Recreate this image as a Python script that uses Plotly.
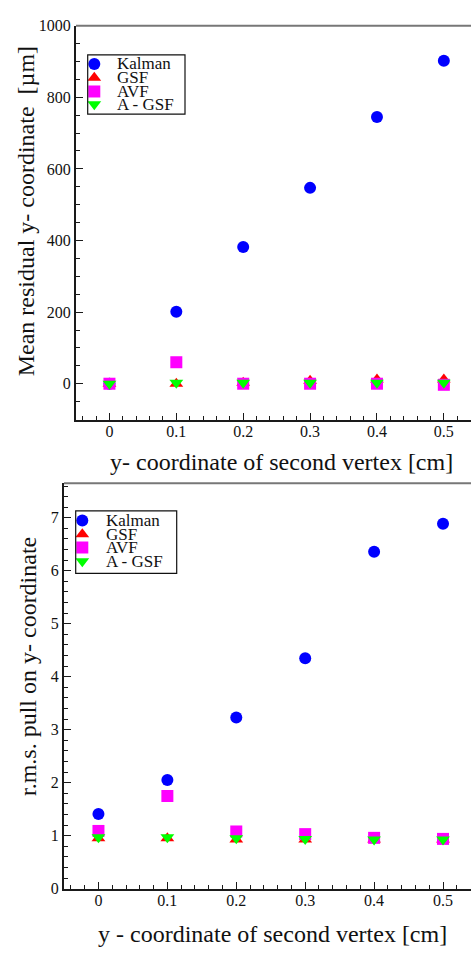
import plotly.graph_objects as go

# Vertex y-coordinate scan points [cm]
vertex_y = [0.0, 0.1, 0.2, 0.3, 0.4, 0.5]

# Mean residual of the fitted y-coordinate [um]
resid_kalman = [0, 201, 382, 547, 745, 902]
resid_gsf = [0, 0, 3, 8, 12, 12]
resid_avf = [0, 60, 0, 0, 0, -3]
resid_agsf = [0, 3, 3, 3, 3, 3]

# r.m.s. of the pull on the y-coordinate
pull_kalman = [1.41, 2.05, 3.23, 4.35, 6.36, 6.89]
pull_gsf = [0.95, 0.95, 0.93, 0.93, 0.93, 0.93]
pull_avf = [1.09, 1.75, 1.08, 1.03, 0.96, 0.94]
pull_agsf = [0.97, 0.97, 0.95, 0.94, 0.93, 0.93]

series_names = ["Kalman", "GSF", "AVF", "A - GSF"]
series_colors = ["#0000ff", "#ff0000", "#ff00ff", "#00ff00"]
series_symbols = ["circle", "triangle-up", "square", "triangle-down"]
series_sizes = [12, 12, 12, 12]

W, H = 471, 953
FONT = "Liberation Serif"
AXC = "#1a1a1a"
CLEAR = "rgba(0,0,0,0)"

fig = go.Figure()

top_sets = [resid_kalman, resid_gsf, resid_avf, resid_agsf]
bot_sets = [pull_kalman, pull_gsf, pull_avf, pull_agsf]

for vals, name, col, sym, sz in zip(top_sets, series_names, series_colors, series_symbols, series_sizes):
    fig.add_trace(go.Scatter(x=vertex_y, y=vals, mode="markers", name=name, showlegend=False,
                             marker=dict(color=col, symbol=sym, size=sz, line=dict(width=0)),
                             xaxis="x", yaxis="y", cliponaxis=False))
for vals, name, col, sym, sz in zip(bot_sets, series_names, series_colors, series_symbols, series_sizes):
    fig.add_trace(go.Scatter(x=vertex_y, y=vals, mode="markers", name=name, showlegend=False,
                             marker=dict(color=col, symbol=sym, size=sz, line=dict(width=0)),
                             xaxis="x2", yaxis="y2", cliponaxis=False))

# panel geometry in pixels
top_left, top_bottom, top_top = 76, 419, 18
bot_left, bot_bottom, bot_top = 64, 896.7, 484


def px_x(p):
    return p / W


def px_y(p):
    return 1 - p / H


tick_font = dict(family=FONT, size=16, color="#111")


def xaxis_cfg(left, anchor):
    return dict(domain=[px_x(left), 1], range=[-0.05, 0.5406], anchor=anchor,
                tick0=0, dtick=0.1, ticklabelstandoff=-4,
                ticks="inside", ticklen=7, tickwidth=1.3, tickcolor=AXC,
                minor=dict(dtick=0.02, ticks="inside", ticklen=4, tickwidth=1.2, tickcolor=AXC),
                showline=True, linecolor=AXC, linewidth=2, showgrid=False, zeroline=False,
                tickfont=tick_font, fixedrange=True)


def yaxis_cfg(bottom, top, rng, dtick, mdtick, anchor):
    return dict(domain=[px_y(bottom), px_y(top)], range=rng, anchor=anchor,
                tick0=0, dtick=dtick,
                ticks="inside", ticklen=7, tickwidth=1.3, tickcolor=AXC,
                minor=dict(dtick=mdtick, ticks="inside", ticklen=4, tickwidth=1.2, tickcolor=AXC),
                showline=True, linecolor=AXC, linewidth=2, showgrid=False, zeroline=False,
                tickfont=tick_font, fixedrange=True)


def outer_ticks(base, cfg, dtick):
    # short outward stubs of the major ticks
    return dict(range=cfg["range"], overlaying=base,
                anchor=cfg["anchor"], side="bottom" if base.startswith("x") else "left",
                tick0=0, dtick=dtick, ticks="outside", ticklen=3, tickwidth=1.3,
                tickcolor=AXC, showticklabels=False, showline=False, showgrid=False,
                zeroline=False, fixedrange=True)


xa = xaxis_cfg(top_left, "y")
ya = yaxis_cfg(top_bottom, top_top, [-100, 1000], 200, 50, "x")
xb = xaxis_cfg(bot_left, "y2")
yb = yaxis_cfg(bot_bottom, bot_top, [0, 7.65], 1, 0.2, "x2")

layout = dict(
    width=W, height=H, margin=dict(l=0, r=0, t=0, b=0),
    paper_bgcolor="white", plot_bgcolor=CLEAR,
    font=dict(family=FONT, color="#111"),
    xaxis=xa, yaxis=ya, xaxis2=xb, yaxis2=yb,
    xaxis3=outer_ticks("x", xa, 0.1), yaxis3=outer_ticks("y", ya, 200),
    xaxis4=outer_ticks("x2", xb, 0.1), yaxis4=outer_ticks("y2", yb, 1),
    # full-page pixel frame used for the legend symbols
    xaxis5=dict(domain=[0, 1], range=[0, W], anchor="y5", visible=False, fixedrange=True),
    yaxis5=dict(domain=[0, 1], range=[H, 0], anchor="x5", visible=False, fixedrange=True),
    showlegend=False,
)
fig.update_layout(**layout)

shapes = []
annotations = []

# top frame lines
for left, top in [(top_left, top_top), (bot_left, bot_top)]:
    shapes.append(dict(type="line", xref="paper", yref="paper", x0=px_x(left), x1=1,
                       y0=px_y(top), y1=px_y(top), line=dict(color="#777", width=2)))

# axis titles
title_font = dict(family=FONT, size=24, color="#111")
annotations.append(dict(text="y- coordinate of second vertex [cm]", xref="paper", yref="paper",
                        x=px_x(281), y=px_y(462), showarrow=False, font=title_font,
                        xanchor="center", yanchor="middle"))
annotations.append(dict(text="Mean residual y- coordinate\u00a0\u00a0[\u00b5m]", xref="paper", yref="paper",
                        x=px_x(26), y=px_y(207), showarrow=False, font=title_font, textangle=-90,
                        xanchor="center", yanchor="middle"))
annotations.append(dict(text="y - coordinate of second vertex [cm]", xref="paper", yref="paper",
                        x=px_x(272), y=px_y(943), showarrow=False, font=title_font,
                        xanchor="center", yanchor="middle"))
annotations.append(dict(text="r.m.s. pull on y- coordinate", xref="paper", yref="paper",
                        x=px_x(28), y=px_y(671), showarrow=False, font=title_font, textangle=-90,
                        xanchor="center", yanchor="middle"))

# legend boxes: (x0, y0, x1, y1, marker x, text x, row centres)
legends = [
    (87.7, 47.7, 185, 108, 94.3, 115, [57, 71, 85, 98]),
    (75.7, 512, 176.7, 575.7, 82.3, 104, [521.7, 535.7, 549.3, 563.3]),
]
leg_font = dict(family=FONT, size=17, color="#111")
for x0, y0, x1, y1, mx, tx, rows in legends:
    shapes.append(dict(type="rect", xref="paper", yref="paper", x0=px_x(x0), x1=px_x(x1),
                       y0=px_y(y1), y1=px_y(y0), line=dict(color="#111", width=1.2),
                       fillcolor=CLEAR, layer="above"))
    for name, col, sym, sz, ry in zip(series_names, series_colors, series_symbols, series_sizes, rows):
        fig.add_trace(go.Scatter(x=[mx], y=[ry], mode="markers", showlegend=False, hoverinfo="skip",
                                 marker=dict(color=col, symbol=sym, size=sz, line=dict(width=0)),
                                 xaxis="x5", yaxis="y5", cliponaxis=False))
        annotations.append(dict(text=name, xref="paper", yref="paper", x=px_x(tx), y=px_y(ry),
                                showarrow=False, font=leg_font, xanchor="left", yanchor="middle"))

fig.update_layout(shapes=shapes, annotations=annotations)
fig.write_html("out.html")
